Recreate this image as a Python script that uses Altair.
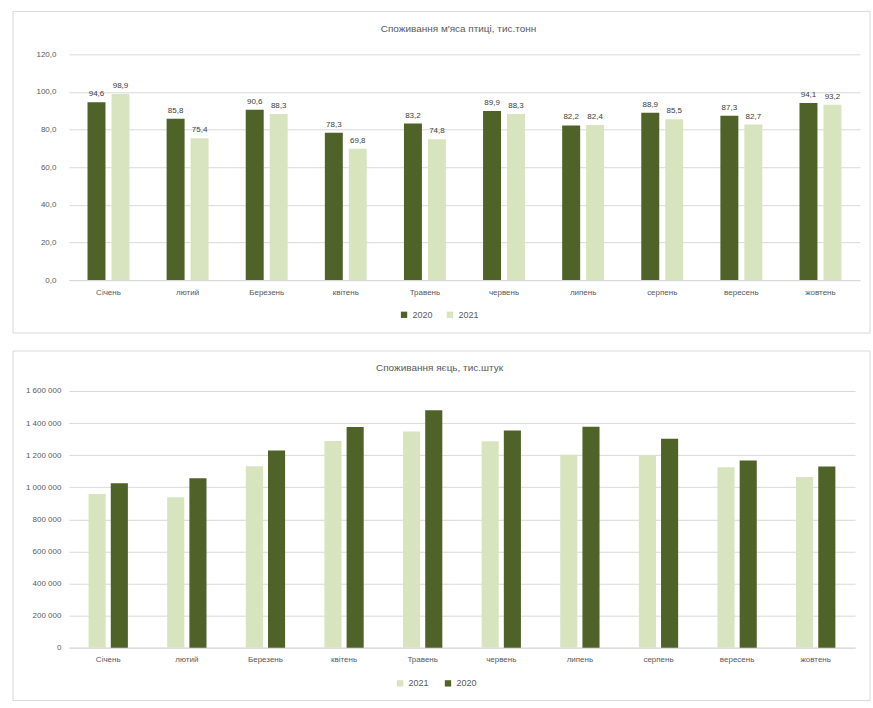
import altair as alt
import pandas as pd

# Months shown on both category axes
months = ["Січень", "лютий", "Березень", "квітень", "Травень",
          "червень", "липень", "серпень", "вересень", "жовтень"]

# Poultry meat consumption, thousand tonnes
meat_2020 = [94.6, 85.8, 90.6, 78.3, 83.2, 89.9, 82.2, 88.9, 87.3, 94.1]
meat_2021 = [98.9, 75.4, 88.3, 69.8, 74.8, 88.3, 82.4, 85.5, 82.7, 93.2]

# Egg consumption, thousand pieces
eggs_2021 = [958000, 937000, 1131000, 1288000, 1348000, 1287000, 1202000, 1198000, 1125000, 1063000]
eggs_2020 = [1025000, 1056000, 1229000, 1375000, 1479000, 1354000, 1377000, 1302000, 1167000, 1129000]

meat_ticks = [0, 20, 40, 60, 80, 100, 120]
egg_ticks = [0, 200000, 400000, 600000, 800000, 1000000, 1200000, 1400000, 1600000]

DARK = "#4f6228"
LIGHT = "#d7e4bd"
FONT = "Liberation Sans"
TEXT = "#595959"
GRID = "#d9d9d9"

meat = pd.DataFrame({
    "month": months * 2,
    "year": ["2020"] * len(months) + ["2021"] * len(months),
    "value": meat_2020 + meat_2021,
})
meat["label"] = meat["value"].map(lambda v: f"{v:.1f}".replace(".", ","))

eggs = pd.DataFrame({
    "month": months * 2,
    "year": ["2021"] * len(months) + ["2020"] * len(months),
    "value": eggs_2021 + eggs_2020,
})

one = pd.DataFrame({"k": [0]})

# ---------- top panel: poultry meat ----------
W1, H1 = 792, 226

x_top = alt.X("month:N", sort=months, title=None,
              scale=alt.Scale(paddingInner=0.47, paddingOuter=0.235),
              axis=alt.Axis(labelAngle=0, ticks=False, domainColor=GRID,
                            labelColor=TEXT, labelFontSize=8, labelFont=FONT,
                            labelPadding=8))
xo_top = alt.XOffset("year:N", sort=["2020", "2021"],
                     scale=alt.Scale(paddingInner=0.25))
y_top = alt.Y("value:Q", title=None,
              scale=alt.Scale(domain=[0, 120], nice=False),
              axis=alt.Axis(values=meat_ticks, grid=True, gridColor=GRID,
                            domain=False, ticks=False, labelPadding=13,
                            labelFontSize=8, labelColor=TEXT, labelFont=FONT,
                            labelExpr="replace(format(datum.value, '.1f'), '.', ',')"))

bars_top = alt.Chart(meat).mark_bar().encode(
    x=x_top, xOffset=xo_top, y=y_top,
    color=alt.Color("year:N",
                    scale=alt.Scale(domain=["2020", "2021"], range=[DARK, LIGHT]),
                    legend=alt.Legend(orient="none", legendX=331, legendY=256,
                                      direction="horizontal", title=None,
                                      symbolType="square", symbolSize=40,
                                      symbolStrokeWidth=0, labelFont=FONT,
                                      labelFontSize=9, labelColor=TEXT,
                                      columnPadding=12, labelOffset=4)),
)
labels_top = alt.Chart(meat).mark_text(
    dy=-4, baseline="bottom", fontSize=8, font=FONT, color="#404040"
).encode(x=x_top, xOffset=xo_top, y=y_top, text="label:N")

frame_top = alt.Chart(one).mark_rect(fillOpacity=0, stroke=GRID, strokeWidth=1).encode(
    x=alt.value(-56), x2=alt.value(802), y=alt.value(-43), y2=alt.value(279))
title_top = alt.Chart(one).mark_text(
    fontSize=10, font=FONT, color=TEXT, baseline="middle", align="center"
).encode(x=alt.value(390), y=alt.value(-25),
         text=alt.value("Споживання м'яса птиці, тис.тонн"))

top = alt.layer(frame_top, title_top, bars_top, labels_top).properties(width=W1, height=H1)

# ---------- bottom panel: eggs ----------
W2, H2 = 787, 257

x_bot = alt.X("month:N", sort=months, title=None,
              scale=alt.Scale(paddingInner=0.5, paddingOuter=0.25),
              axis=alt.Axis(labelAngle=0, ticks=False, domainColor=GRID,
                            labelColor=TEXT, labelFontSize=8, labelFont=FONT,
                            labelPadding=8))
xo_bot = alt.XOffset("year:N", sort=["2021", "2020"],
                     scale=alt.Scale(paddingInner=0.23))
y_bot = alt.Y("value:Q", title=None,
              scale=alt.Scale(domain=[0, 1600000], nice=False),
              axis=alt.Axis(values=egg_ticks, grid=True, gridColor=GRID,
                            domain=False, ticks=False, labelPadding=8,
                            labelFontSize=8, labelColor=TEXT, labelFont=FONT,
                            labelExpr="replace(format(datum.value, ','), regexp(',', 'g'), ' ')"))

bars_bot = alt.Chart(eggs).mark_bar().encode(
    x=x_bot, xOffset=xo_bot, y=y_bot,
    color=alt.Color("year:N",
                    scale=alt.Scale(domain=["2021", "2020"], range=[LIGHT, DARK]),
                    legend=alt.Legend(orient="none", legendX=327, legendY=288,
                                      direction="horizontal", title=None,
                                      symbolType="square", symbolSize=40,
                                      symbolStrokeWidth=0, labelFont=FONT,
                                      labelFontSize=9, labelColor=TEXT,
                                      columnPadding=14, labelOffset=4)),
)
frame_bot = alt.Chart(one).mark_rect(fillOpacity=0, stroke=GRID, strokeWidth=1).encode(
    x=alt.value(-56), x2=alt.value(802), y=alt.value(-40), y2=alt.value(310))
title_bot = alt.Chart(one).mark_text(
    fontSize=10, font=FONT, color=TEXT, baseline="middle", align="center"
).encode(x=alt.value(371), y=alt.value(-23),
         text=alt.value("Споживання яєць, тис.штук"))

bottom = alt.layer(frame_bot, title_bot, bars_bot).properties(width=W2, height=H2)

chart = alt.vconcat(top, bottom, spacing=111, bounds="flush").resolve_scale(
    x="independent", y="independent", color="independent", xOffset="independent"
).properties(
    padding={"left": 12, "top": 10, "right": 2, "bottom": 7},
    background="white",
).configure_view(stroke=None)

chart.save("out.html", embed_options={"renderer": "svg", "actions": False})
